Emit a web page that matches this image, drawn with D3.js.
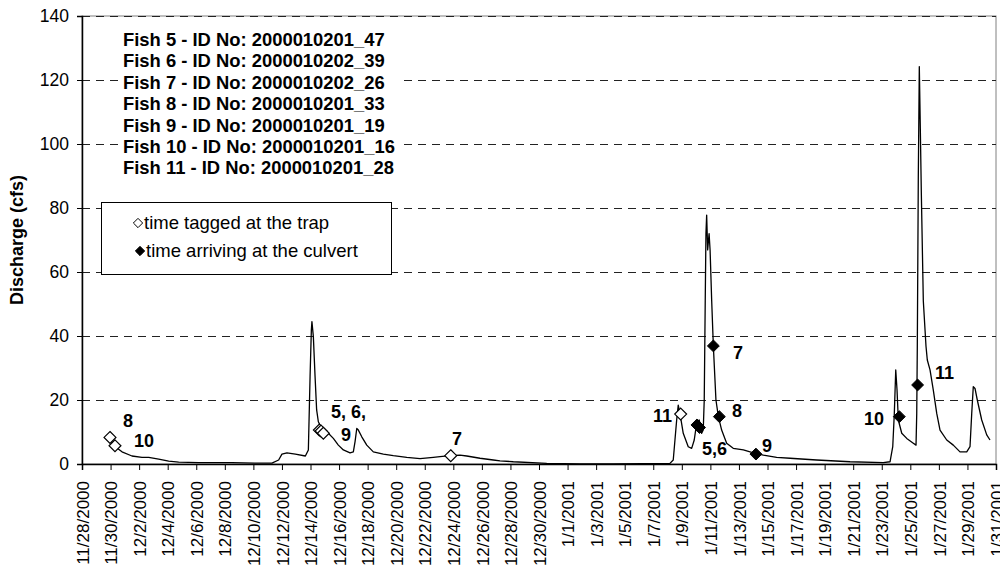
<!DOCTYPE html>
<html>
<head>
<meta charset="utf-8">
<script src="https://cdn.jsdelivr.net/npm/d3@7"></script>
<style>
  body { margin: 0; background: #fff; }
  svg { display: block; font-family: Arial, "Liberation Sans", sans-serif; }
</style>
</head>
<body>
<svg id="chart"></svg>
<script>
//discharge record, days after 11/28/2000 00:00 and cfs
var flowDay = [1.95, 2.33, 2.80, 3.50, 4.20, 4.67, 5.37, 6.07, 6.77, 8.17, 10.50, 12.11, 13.30,
  13.77, 14.00, 14.35, 14.94, 15.64, 15.85, 15.97, 16.06, 16.10, 16.20, 16.32, 16.43, 16.55,
  16.78, 17.25, 17.60, 17.95, 18.30, 18.77, 19.00, 19.12, 19.24, 19.35, 19.59, 19.94, 20.40,
  21.10, 21.80, 22.74, 23.67, 24.60, 25.07, 25.77, 26.47, 26.94, 27.87, 28.80, 29.27, 30.20,
  32.54, 34.87, 37.20, 41.17, 41.40, 41.52, 41.64, 41.75, 41.87, 42.10, 42.45, 42.69, 42.87,
  43.04, 43.22, 43.39, 43.50, 43.57, 43.64, 43.69, 43.74, 43.81, 43.91, 43.98, 44.09, 44.21,
  44.39, 44.56, 44.79, 45.14, 45.60, 46.31, 47.01, 47.71, 48.64, 49.58, 51.44, 53.78, 56.11,
  56.58, 56.77, 56.88, 56.98, 57.07, 57.16, 57.40, 57.75, 58.21, 58.40, 58.45, 58.49, 58.56,
  58.63, 58.70, 58.77, 58.84, 58.91, 59.10, 59.19, 59.38, 59.61, 59.85, 60.08, 60.55, 61.01,
  61.48, 61.95, 62.18, 62.30, 62.41, 62.53, 62.69, 63.00, 63.35, 63.58];
var flowCfs = [7.6, 5.4, 3.8, 2.5, 2.1, 2.1, 1.5, 0.9, 0.6, 0.4, 0.4, 0.3, 0.3,
  1.25, 3.1, 3.5, 3.1, 2.5, 4.4, 27.3, 41.9, 44.5, 39.8, 27.3, 16.9, 13.2,
  11.1, 9.6, 8.0, 5.9, 4.4, 3.5, 3.8, 7.0, 11.1, 10.6, 8.5, 5.9, 3.8,
  3.1, 2.6, 2.1, 1.7, 2.1, 2.3, 2.6, 2.8, 2.5, 1.8, 1.25, 1.0, 0.7,
  0.2, 0.0, 0.0, 0.2, 1.25, 7.5, 13.75, 18.4, 15.8, 9.6, 5.4, 4.9, 7.5,
  12.7, 13.75, 9.6, 10.6, 20, 51, 72, 77.8, 66.9, 72, 66.9, 51.25, 36.7,
  20, 14.8, 10.6, 6.5, 4.9, 4.4, 3.5, 2.8, 2.1, 1.8, 1.25, 0.7, 0.4,
  0.7, 5.4, 15.8, 29.4, 23.1, 13.75, 9.6, 8.0, 6.5, 5.9, 15.8, 36.7, 90,
  124.2, 105, 85, 68, 51, 36.7, 32.5, 29.4, 23.1, 15.8, 10.6, 7.5, 5.9,
  3.8, 3.8, 5.4, 15.8, 24.2, 23.6, 20, 13.75, 9.1, 7.5];

//time tagged at the trap (open diamonds)
var taggedDay = [1.96, 2.31, 16.62, 16.74, 16.90, 25.82, 41.92];
var taggedCfs = [8.3, 5.7, 10.6, 10.3, 9.6, 2.6, 15.6];

//time arriving at the culvert (filled diamonds)
var arrivedDay = [43.06, 43.24, 44.21, 44.63, 47.19, 57.23, 58.51];
var arrivedCfs = [12.2, 11.4, 36.9, 14.8, 3.1, 14.8, 24.7];

//fish number labels, placed at (day, cfs)
var noteText = ["8", "10", "5, 6,", "9", "7", "11", "5,6", "7", "8", "9", "10", "11"];
var noteDay = [2.87, 3.64, 17.44, 18.14, 25.91, 39.98, 43.41, 45.58, 45.52, 47.62, 54.76, 59.73];
var noteCfs = [11.6, 5.3, 14.4, 7.2, 5.9, 13.1, 2.8, 32.8, 14.7, 3.75, 12.2, 26.6];

var fishLines = [
  "Fish 5 - ID No: 2000010201_47",
  "Fish 6 - ID No: 2000010202_39",
  "Fish 7 - ID No: 2000010202_26",
  "Fish 8 - ID No: 2000010201_33",
  "Fish 9 - ID No: 2000010201_19",
  "Fish 10 - ID No: 2000010201_16",
  "Fish 11 - ID No: 2000010201_28"
];
var legendLabels = ["time tagged at the trap", "time arriving at the culvert"];

var xTickLabels = ["11/28/2000", "11/30/2000", "12/2/2000", "12/4/2000", "12/6/2000", "12/8/2000",
  "12/10/2000", "12/12/2000", "12/14/2000", "12/16/2000", "12/18/2000", "12/20/2000", "12/22/2000",
  "12/24/2000", "12/26/2000", "12/28/2000", "12/30/2000", "1/1/2001", "1/3/2001", "1/5/2001",
  "1/7/2001", "1/9/2001", "1/11/2001", "1/13/2001", "1/15/2001", "1/17/2001", "1/19/2001",
  "1/21/2001", "1/23/2001", "1/25/2001", "1/27/2001", "1/29/2001", "1/31/2001"];
var yTicks = [0, 20, 40, 60, 80, 100, 120, 140];

//canvas info
var width = 1000;
var height = 573;
var plotL = 82, plotR = 996, plotT = 16, plotB = 464;

var start = Date.UTC(2000, 10, 28);
function toDate(d) { return new Date(start + d * 86400000); }
var parse = d3.utcParse("%m/%d/%Y");
var fmt = d3.utcFormat("%-m/%-d/%Y");

var svg = d3.select("#chart").attr("width", width).attr("height", height);

var x = d3.scaleUtc()
  .domain([parse(xTickLabels[0]), parse(xTickLabels[xTickLabels.length - 1])])
  .range([plotL, plotR]);
var y = d3.scaleLinear().domain([0, 140]).range([plotB, plotT]);

//plot border
svg.append("rect")
  .attr("x", plotL).attr("y", plotT)
  .attr("width", plotR - plotL).attr("height", plotB - plotT)
  .attr("fill", "none").attr("stroke", "#808080").attr("stroke-width", 1);

//dashed grid
svg.append("g").selectAll("line")
  .data(yTicks.filter(function(v) { return v > 0; }))
  .enter().append("line")
  .attr("x1", plotL).attr("x2", plotR)
  .attr("y1", function(d) { return y(d) + 0.5; })
  .attr("y2", function(d) { return y(d) + 0.5; })
  .attr("stroke", "#222").attr("stroke-width", 1)
  .attr("stroke-dasharray", "8,6");

//y axis
var yAxis = svg.append("g")
  .attr("transform", "translate(" + plotL + ",0)")
  .call(d3.axisLeft(y).tickValues(yTicks).tickSize(5).tickPadding(8));
yAxis.select(".domain").attr("stroke", "#000").attr("stroke-width", 1.5);
yAxis.selectAll("text").attr("font-size", "17.5px").attr("fill", "#000")
  .attr("font-family", "Arial, 'Liberation Sans', sans-serif");

//x axis
var xAxis = svg.append("g")
  .attr("transform", "translate(0," + plotB + ")")
  .call(d3.axisBottom(x).tickValues(xTickLabels.map(parse)).tickFormat(fmt).tickSize(6));
xAxis.select(".domain").attr("stroke", "#000").attr("stroke-width", 1.5);
xAxis.selectAll("text")
  .attr("font-size", "17px").attr("fill", "#000")
  .attr("font-family", "Arial, 'Liberation Sans', sans-serif")
  .attr("text-anchor", "end")
  .attr("transform", "translate(0,17) rotate(-90)")
  .attr("x", 0).attr("y", 0).attr("dy", "0.36em");

//y title
svg.append("text")
  .attr("transform", "translate(17,240) rotate(-90)")
  .attr("text-anchor", "middle")
  .attr("dy", "0.35em")
  .attr("font-size", "18px").attr("font-weight", "bold")
  .text("Discharge (cfs)");

//discharge line
var flow = flowDay.map(function(d, i) { return {t: toDate(d), v: flowCfs[i]}; });
var line = d3.line()
  .x(function(d) { return x(d.t); })
  .y(function(d) { return y(d.v); });
svg.append("path")
  .datum(flow)
  .attr("d", line)
  .attr("fill", "none").attr("stroke", "#000").attr("stroke-width", 1.3)
  .attr("stroke-linejoin", "round");

var diamond = d3.symbol().type(d3.symbolDiamond2).size(90);

//open diamonds
svg.append("g").selectAll("path")
  .data(taggedDay.map(function(d, i) { return {t: toDate(d), v: taggedCfs[i]}; }))
  .enter().append("path")
  .attr("d", diamond)
  .attr("transform", function(d) { return "translate(" + x(d.t) + "," + y(d.v) + ")"; })
  .attr("fill", "#fff").attr("stroke", "#000").attr("stroke-width", 1.2);

//filled diamonds
svg.append("g").selectAll("path")
  .data(arrivedDay.map(function(d, i) { return {t: toDate(d), v: arrivedCfs[i]}; }))
  .enter().append("path")
  .attr("d", diamond)
  .attr("transform", function(d) { return "translate(" + x(d.t) + "," + y(d.v) + ")"; })
  .attr("fill", "#000").attr("stroke", "#000").attr("stroke-width", 1);

//fish number labels
svg.append("g").selectAll("text")
  .data(noteText)
  .enter().append("text")
  .attr("x", function(d, i) { return x(toDate(noteDay[i])); })
  .attr("y", function(d, i) { return y(noteCfs[i]); })
  .attr("font-size", "18px").attr("font-weight", "bold")
  .text(function(d) { return d; });

//fish id block (text box with white fill hides the grid)
var idBox = svg.append("g");
idBox.append("rect")
  .attr("x", 118).attr("y", 25).attr("width", 284).attr("height", 168)
  .attr("fill", "#fff");
idBox.selectAll("text")
  .data(fishLines)
  .enter().append("text")
  .attr("x", 123)
  .attr("y", function(d, i) { return 46 + i * 21.4; })
  .attr("font-size", "18.4px").attr("font-weight", "bold")
  .text(function(d) { return d; });

//legend box
var leg = svg.append("g");
leg.append("rect")
  .attr("x", 101.5).attr("y", 202.5).attr("width", 290).attr("height", 72)
  .attr("fill", "#fff").attr("stroke", "#000").attr("stroke-width", 1);
var legSym = d3.symbol().type(d3.symbolDiamond2).size(55);
leg.selectAll("path")
  .data(legendLabels)
  .enter().append("path")
  .attr("d", legSym)
  .attr("transform", function(d, i) { return "translate(" + (138 + i * 2) + "," + (223 + i * 28) + ")"; })
  .attr("fill", function(d, i) { return i == 0 ? "#fff" : "#000"; })
  .attr("stroke", "#000").attr("stroke-width", 1);
leg.selectAll("text")
  .data(legendLabels)
  .enter().append("text")
  .attr("x", function(d, i) { return 144 + i * 2; })
  .attr("y", function(d, i) { return 229 + i * 28; })
  .attr("font-size", "18.5px")
  .text(function(d) { return d; });
</script>
</body>
</html>
